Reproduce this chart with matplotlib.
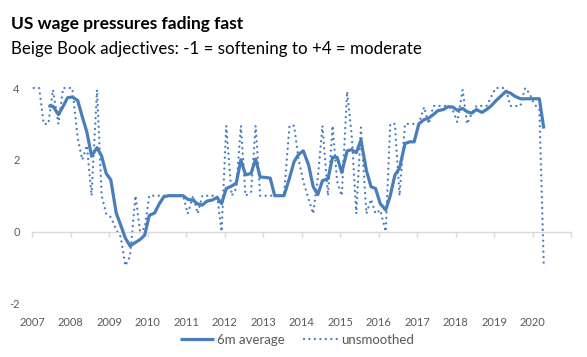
import matplotlib
matplotlib.use("Agg")
import matplotlib.pyplot as plt
import pandas as pd

# Beige Book release dates (approximate)
dates = [
    "2007-01-15", "2007-03-07", "2007-04-19", "2007-06-02", "2007-07-16", "2007-09-06", "2007-10-20", "2007-12-02",
    "2008-01-15", "2008-03-07", "2008-04-19", "2008-06-02", "2008-07-16", "2008-09-06", "2008-10-20", "2008-12-02",
    "2009-01-15", "2009-03-07", "2009-04-19", "2009-06-02", "2009-07-16", "2009-09-06", "2009-10-20", "2009-12-02",
    "2010-01-15", "2010-03-07", "2010-04-19", "2010-06-02", "2010-07-16", "2010-09-06", "2010-10-20", "2010-12-02",
    "2011-01-15", "2011-03-07", "2011-04-19", "2011-06-02", "2011-07-16", "2011-09-06", "2011-10-20", "2011-12-02",
    "2012-01-15", "2012-03-07", "2012-04-19", "2012-06-02", "2012-07-16", "2012-09-06", "2012-10-20", "2012-12-02",
    "2013-01-15", "2013-03-07", "2013-04-19", "2013-06-02", "2013-07-16", "2013-09-06", "2013-10-20", "2013-12-02",
    "2014-01-15", "2014-03-07", "2014-04-19", "2014-06-02", "2014-07-16", "2014-09-06", "2014-10-20", "2014-12-02",
    "2015-01-15", "2015-03-07", "2015-04-19", "2015-06-02", "2015-07-16", "2015-09-06", "2015-10-20", "2015-12-02",
    "2016-01-15", "2016-03-07", "2016-04-19", "2016-06-02", "2016-07-16", "2016-09-06", "2016-10-20", "2016-12-02",
    "2017-01-15", "2017-03-07", "2017-04-19", "2017-06-02", "2017-07-16", "2017-09-06", "2017-10-20", "2017-12-02",
    "2018-01-15", "2018-03-07", "2018-04-19", "2018-06-02", "2018-07-16", "2018-09-06", "2018-10-20", "2018-12-02",
    "2019-01-15", "2019-03-07", "2019-04-19", "2019-06-02", "2019-07-16", "2019-09-06", "2019-10-20", "2019-12-02",
    "2020-01-15", "2020-03-04", "2020-04-15",
]

unsmoothed = [
    4.0, 4.0, 3.0, 3.0, 3.95, 3.0, 4.0, 4.0,
    4.0, 2.6, 2.0, 2.4, 1.0, 3.95, 1.0, 0.5,
    0.4, 0.05, -0.15, -0.95, -0.7, 1.0, 0.0, 0.1,
    1.0, 1.0, 1.0, 1.0, 1.0, 1.0, 1.0, 1.0,
    0.5, 1.0, 0.5, 1.0, 1.0, 1.0, 1.0, 0.0,
    2.95, 1.0, 1.2, 2.95, 1.0, 1.1, 2.95, 1.0,
    1.0, 1.0, 1.0, 1.0, 1.0, 2.95, 2.95, 2.0,
    1.4, 0.9, 0.5, 1.5, 2.95, 1.0, 2.95, 1.4,
    1.0, 3.9, 2.7, 0.5, 2.9, 0.5, 0.9, 0.5,
    0.6, 0.0, 3.0, 3.0, 1.0, 3.0, 3.0, 3.0,
    3.0, 3.47, 3.0, 3.5, 3.5, 3.5, 3.5, 3.4,
    3.05, 3.95, 3.0, 3.3, 3.5, 3.5, 3.5, 3.75,
    4.0, 4.0, 4.0, 3.5, 3.5, 3.5, 4.0, 3.85,
    3.55, 3.4, -0.95,
]

# 6m average starts with the 4th release
avg_dates = dates[3:]
avg_6m = [
    3.5, 3.49, 3.26, 3.49, 3.73,
    3.75, 3.65, 3.2, 2.77, 2.1, 2.34, 2.1, 1.62,
    1.44, 0.52, 0.18, -0.18, -0.4, -0.3, -0.22, -0.1,
    0.45, 0.52, 0.77, 0.97, 1.0, 1.0, 1.0, 1.0,
    0.9, 0.87, 0.77, 0.74, 0.85, 0.88, 0.95, 0.78,
    1.2, 1.27, 1.35, 2.0, 1.58, 1.62, 2.02, 1.52,
    1.51, 1.49, 1.0, 1.0, 1.0, 1.49, 1.95, 2.15,
    2.25, 1.85, 1.25, 1.03, 1.42, 1.47, 2.07, 2.07,
    1.65, 2.25, 2.28, 2.2, 2.55, 1.7, 1.25, 1.2,
    0.78, 0.6, 1.0, 1.57, 1.77, 2.45, 2.5, 2.5,
    3.0, 3.12, 3.16, 3.26, 3.37, 3.4, 3.48, 3.47,
    3.38, 3.43, 3.34, 3.3, 3.4, 3.32, 3.4, 3.5,
    3.64, 3.78, 3.9, 3.86, 3.77, 3.7, 3.7, 3.7,
    3.7, 3.7, 2.87,
]

year_labels = [str(y) for y in range(2007, 2021)]
y_ticks = [-2, 0, 2, 4]

title = "US wage pressures fading fast"
subtitle = "Beige Book adjectives: -1 = softening to +4 = moderate"

FONT = "Lato"
plt.rcParams["font.family"] = [FONT, "DejaVu Sans"]
BLUE = "#4a7ebb"
GREY = "#595959"

W, H = 587, 357
fig = plt.figure(figsize=(W / 100, H / 100), dpi=100)
ax = fig.add_axes([32.3 / W, 1 - 303.4 / H, (571.3 - 32.3) / W, (303.4 - 88) / H])

x_all = pd.to_datetime(dates)
x_avg = pd.to_datetime(avg_dates)

ax.plot(x_avg, avg_6m, color=BLUE, lw=2.3, solid_capstyle="butt", solid_joinstyle="round",
        label="6m average", clip_on=False, zorder=3)
ax.plot(x_all, unsmoothed, color=BLUE, lw=1.7, linestyle=(0, (0.01, 2.3)),
        dash_capstyle="round", label="unsmoothed", clip_on=False, zorder=2)

ax.set_ylim(-2, 4)
ax.set_xlim(pd.Timestamp("2007-01-01"), pd.Timestamp("2021-01-01"))

for s in ["top", "right", "left"]:
    ax.spines[s].set_visible(False)
ax.spines["bottom"].set_position(("data", 0))
ax.spines["bottom"].set_color("#d9d9d9")
ax.spines["bottom"].set_linewidth(1.0)

ticks = [pd.Timestamp(f"{y}-01-01") for y in range(2007, 2022)]
ax.set_xticks(ticks)
ax.set_xticklabels(year_labels + [""])
ax.tick_params(axis="x", direction="out", length=3.5, width=1.0, color="#d9d9d9",
               pad=58, labelsize=8, labelcolor=GREY)
ax.set_yticks(y_ticks)
ax.set_yticklabels([str(v) for v in y_ticks])
ax.tick_params(axis="y", length=0, pad=9, labelsize=8, labelcolor=GREY)

fig.text(11 / W, 1 - 29.5 / H, title, fontsize=12.5, fontweight="bold", color="black",
         va="baseline", ha="left")
fig.text(11 / W, 1 - 54 / H, subtitle, fontsize=12.2, color="black", va="baseline", ha="left")

leg = fig.legend(loc="center", bbox_to_anchor=(297 / W, 1 - 340 / H), ncol=2, frameon=False,
                 fontsize=9.5, handlelength=2.6, columnspacing=1.4, handletextpad=0.25)
for t in leg.get_texts():
    t.set_color(GREY)

fig.savefig("out.png", dpi=100)
